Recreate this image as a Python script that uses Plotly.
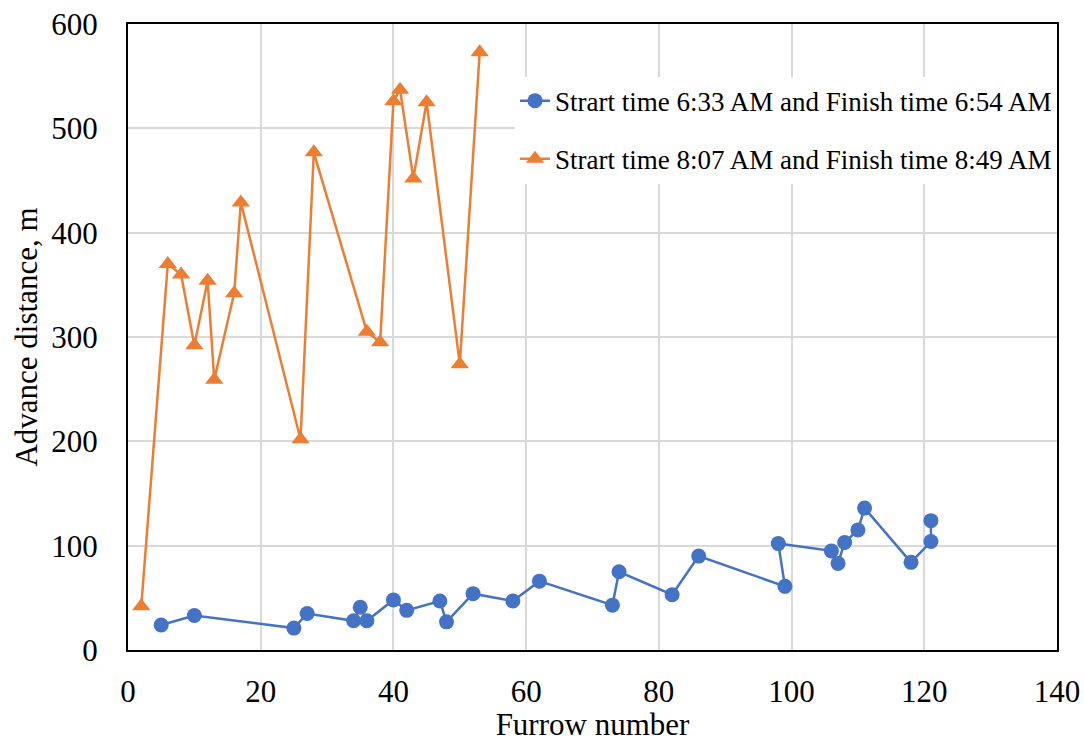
import plotly.graph_objects as go

blue_x = [5, 10, 25, 27, 34, 35, 36, 40, 42, 47, 48, 52, 58, 62, 73, 74, 82, 86, 99, 98, 106, 107, 108, 110, 111, 118, 121, 121]
blue_y = [24, 33, 21, 35, 28, 41, 28, 48, 38, 47, 27, 54, 47, 66, 43, 75, 53, 90, 61, 102, 95, 83, 103, 115, 136, 84, 104, 124]
orange_x = [2, 6, 8, 10, 12, 13, 16, 17, 26, 28, 36, 38, 40, 41, 43, 45, 50, 53]
orange_y = [42, 370, 360, 292, 354, 259, 342, 429, 202, 477, 305, 295, 526, 537, 452, 525, 274, 573]

blue_name = "Strart time 6:33 AM and Finish time 6:54 AM"
orange_name = "Strart time 8:07 AM and Finish time 8:49 AM"

FONT = "Liberation Serif"

fig = go.Figure()
fig.add_trace(go.Scatter(
    x=blue_x, y=blue_y, mode="lines+markers", name=blue_name, legendgroup="a",
    line=dict(color="#4472C4", width=2.5),
    marker=dict(symbol="circle", size=15, color="#4472C4"),
))
fig.add_trace(go.Scatter(
    x=orange_x, y=orange_y, mode="lines+markers", name=orange_name, legendgroup="b",
    line=dict(color="#ED7D31", width=2.5),
    marker=dict(symbol="triangle-up", size=16, color="#ED7D31"),
))

fig.update_layout(
    width=1084, height=742,
    margin=dict(l=128, r=27, t=24, b=92, autoexpand=False),
    paper_bgcolor="white", plot_bgcolor="white",
    font=dict(family=FONT, color="black", size=31),
    legend=dict(
        x=1.0, xanchor="right", y=0.916, yanchor="top",
        bgcolor="white", borderwidth=0,
        font=dict(family=FONT, size=27, color="black"),
        tracegroupgap=20, traceorder="grouped",
    ),
    showlegend=True,
)
fig.update_xaxes(
    range=[0, 140], dtick=20, tick0=0, automargin=False,
    showgrid=True, gridcolor="#D9D9D9", gridwidth=1.5,
    showline=True, linecolor="black", linewidth=2, mirror=True,
    zeroline=False, ticks="", ticklabelstandoff=13,
    tickfont=dict(family=FONT, size=31),
    title=dict(text="Furrow number", font=dict(family=FONT, size=31), standoff=9),
)
fig.update_yaxes(
    range=[0, 600], dtick=100, tick0=0, automargin=False,
    showgrid=True, gridcolor="#D9D9D9", gridwidth=1.5,
    showline=True, linecolor="black", linewidth=2, mirror=True,
    zeroline=False, ticks="", ticklabelstandoff=22,
    tickfont=dict(family=FONT, size=31),
    title=dict(text="Advance distance, m", font=dict(family=FONT, size=31), standoff=4),
)

fig.write_html("out.html")
